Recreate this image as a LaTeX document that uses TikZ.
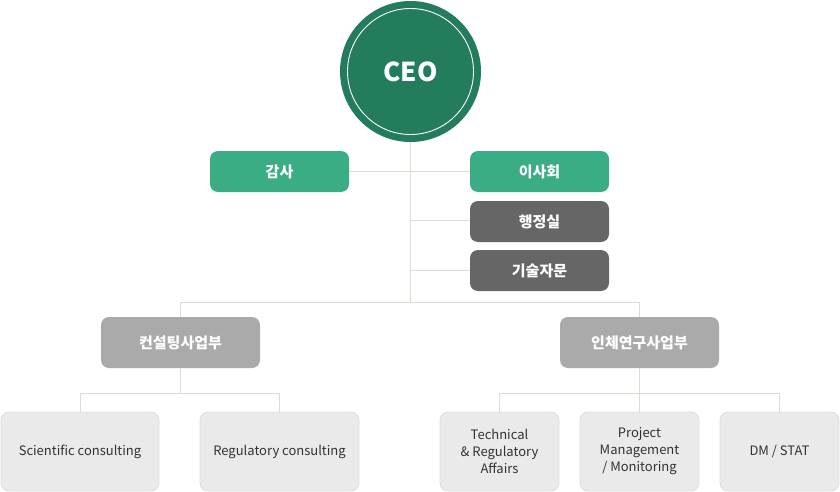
\documentclass[tikz,border=0pt]{standalone}
\usepackage{fontspec}
\setmainfont{Noto Sans CJK KR}
\definecolor{ceo}{RGB}{35,125,92}
\definecolor{grn}{RGB}{58,173,132}
\definecolor{dgr}{RGB}{102,102,102}
\definecolor{mgr}{RGB}{170,170,170}
\definecolor{lgr}{RGB}{234,234,234}
\definecolor{lbd}{RGB}{221,221,221}
\definecolor{ln}{RGB}{221,218,208}
\definecolor{txt}{RGB}{51,51,51}
\begin{document}
\begin{tikzpicture}[x=1pt,y=-1pt,
  box/.style={rounded corners=8pt,minimum width=139pt,minimum height=41pt,inner sep=0pt,text=white,font=\fontsize{15}{18}\selectfont\bfseries},
  gbox/.style={box,fill=grn},
  dbox/.style={box,fill=dgr},
  mbox/.style={box,fill=mgr,minimum width=159pt,minimum height=51pt},
  lbox/.style={rounded corners=8pt,fill=lgr,draw=lbd,line width=0.8pt,minimum height=79pt,inner sep=0pt,text=txt,align=center,font=\fontsize{13}{17}\selectfont},
  conn/.style={draw=ln,line width=1pt}]
\useasboundingbox (0,0) rectangle (840,492);
\coordinate (top) at (410,142);
\coordinate (j2) at (410,220);
\coordinate (j3) at (410,270);
\coordinate (j4) at (410,302);
\node[gbox] (gamsa) at (279.5,171.5) {감사};
\node[gbox] (isa) at (539.5,171.5) {이사회};
\node[dbox] (haeng) at (539.5,221.5) {행정실};
\node[dbox] (gisul) at (539.5,270.5) {기술자문};
\node[mbox] (cons) at (180.5,342.5) {컨설팅사업부};
\node[mbox] (inche) at (639.5,342.5) {인체연구사업부};
\node[lbox,minimum width=158pt] (sci) at (80,451.5) {Scientific consulting};
\node[lbox,minimum width=159pt] (reg) at (279.5,451.5) {Regulatory consulting};
\node[lbox,minimum width=119pt] (tech) at (499.5,451.5) {Technical\\\& Regulatory\\Affairs};
\node[lbox,minimum width=119pt] (proj) at (639.5,451.5) {Project\\Management\\/ Monitoring};
\node[lbox,minimum width=119pt] (dm) at (779.5,451.5) {DM / STAT};
\draw[conn] (top) -- (j4);
\draw[conn] (gamsa.east) -- (isa.west);
\draw[conn] (j2) -- (haeng.west|-j2);
\draw[conn] (j3) -- (gisul.west|-j3);
\draw[conn] (cons.north) -- (cons.north|-j4) -- (inche.north|-j4) -- (inche.north);
\coordinate (c1) at (180.5,393);
\draw[conn] (cons.south) -- (c1);
\draw[conn] (sci.north) -- (sci.north|-c1) -- (reg.north|-c1) -- (reg.north);
\coordinate (c2) at (639.5,393);
\draw[conn] (inche.south) -- (c2);
\draw[conn] (tech.north) -- (tech.north|-c2) -- (dm.north|-c2) -- (dm.north);
\draw[conn] (c2) -- (proj.north);
\node[circle,fill=ceo,minimum size=141pt,inner sep=0pt] (ceo) at (410.5,71.5) {};
\draw[white,line width=0.9pt] (ceo.center) circle (63pt);
\node[text=white,font=\fontsize{26}{30}\selectfont\bfseries] (ceot) at (ceo.center) {CEO};
\end{tikzpicture}
\end{document}
